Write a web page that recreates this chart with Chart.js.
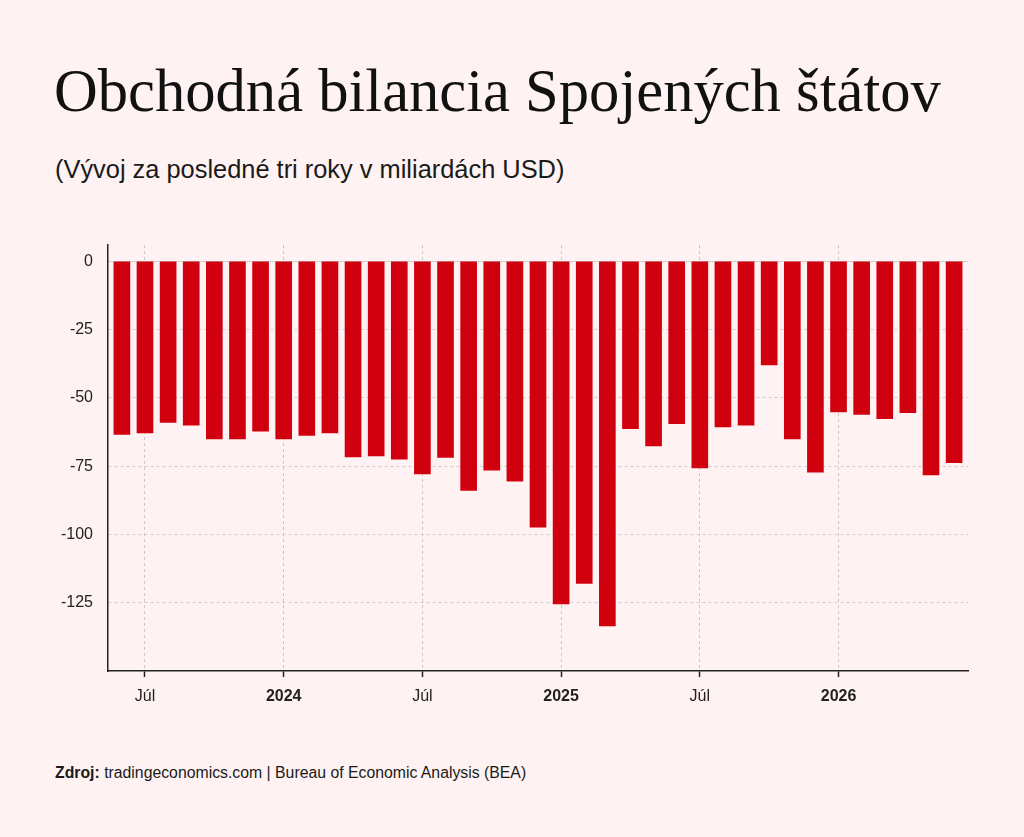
<!DOCTYPE html>
<html lang="sk">
<head>
<meta charset="utf-8">
<title>Obchodná bilancia Spojených štátov</title>
<script src="https://cdn.jsdelivr.net/npm/chart.js@4"></script>
<style>
  html, body { margin: 0; padding: 0; }
  body { width: 1024px; height: 837px; background: #fef3f2; position: relative; overflow: hidden; font-family: "Liberation Sans", Arial, Helvetica, sans-serif; color: #111; }
  #title { position: absolute; left: 54px; top: 56px; font-family: "Liberation Serif", "Times New Roman", serif; font-size: 60.6px; line-height: 70px; white-space: nowrap; }
  #subtitle { position: absolute; left: 55px; top: 154px; font-size: 25.4px; line-height: 30px; color: #1a1a1a; white-space: nowrap; }
  #chart-box { position: absolute; left: 40px; top: 240px; width: 930px; height: 471px; }
  #source { position: absolute; left: 55px; top: 763px; font-size: 15.8px; line-height: 20px; color: #1a1a1a; white-space: nowrap; }
</style>
</head>
<body>
<div id="title">Obchodná bilancia Spojených štátov</div>
<div id="subtitle">(Vývoj za posledné tri roky v miliardách USD)</div>
<div id="chart-box"><canvas id="trade-chart"></canvas></div>
<div id="source"><b>Zdroj:</b> tradingeconomics.com | Bureau of Economic Analysis (BEA)</div>

<script>
// Months (June 2023 - June 2026)
const months = [
    "2023-06", "2023-07", "2023-08", "2023-09", "2023-10", "2023-11", "2023-12",
    "2024-01", "2024-02", "2024-03", "2024-04", "2024-05", "2024-06", "2024-07",
    "2024-08", "2024-09", "2024-10", "2024-11", "2024-12", "2025-01", "2025-02",
    "2025-03", "2025-04", "2025-05", "2025-06", "2025-07", "2025-08", "2025-09",
    "2025-10", "2025-11", "2025-12", "2026-01", "2026-02", "2026-03", "2026-04",
    "2026-05", "2026-06"
];

// Trade balance, billions USD
const balance = [
    -63.4, -62.8, -59.0, -60.0, -65.0, -65.0, -62.2,
    -65.0, -63.7, -62.8, -71.6, -71.2, -72.4, -77.8,
    -71.8, -83.9, -76.5, -80.5, -97.3, -125.4, -117.9,
    -133.5, -61.3, -67.6, -59.4, -75.6, -60.6, -60.0,
    -37.9, -65.0, -77.2, -55.1, -56.0, -57.6, -55.4,
    -78.2, -73.7
];

// X axis ticks (index into months) and their labels
const xTickIndex = [1, 7, 13, 19, 25, 31];
const xTickLabels = ["Júl", "2024", "Júl", "2025", "Júl", "2026"];
const xTickBold = [false, true, false, true, false, true];

// Y axis ticks
const yTicks = [0, -25, -50, -75, -100, -125];

const FONT = "'Liberation Sans', Arial, Helvetica, sans-serif";

function renderTradeChart() {
    const ctx = document.getElementById("trade-chart").getContext("2d");

    const points = balance.map((v, i) => ({ x: i, y: v }));

    new Chart(ctx, {
        type: "bar",
        data: {
            labels: months,
            datasets: [{
                label: "Obchodná bilancia",
                data: points,
                backgroundColor: "#d1000f",
                borderWidth: 0,
                barThickness: 16,
            }]
        },
        options: {
            responsive: true,
            maintainAspectRatio: false,
            animation: false,
            layout: { padding: { top: 5, right: 2, left: 0, bottom: 0 } },
            plugins: {
                legend: { display: false },
                tooltip: { enabled: false },
            },
            scales: {
                x: {
                    type: "linear",
                    offset: false,
                    min: -0.6,
                    max: months.length - 0.4,
                    afterBuildTicks: (scale) => {
                        scale.ticks = xTickIndex.map(v => ({ value: v }));
                    },
                    afterFit: (scale) => {
                        scale.height = 40;
                        scale.paddingLeft = 0;
                        scale.paddingRight = 0;
                    },
                    ticks: {
                        autoSkip: false,
                        maxRotation: 0,
                        padding: 10,
                        color: "#222",
                        font: (c) => {
                            const k = c.tick ? xTickIndex.indexOf(c.tick.value) : -1;
                            return { family: FONT, size: 16, weight: k >= 0 && xTickBold[k] ? "bold" : "normal" };
                        },
                        callback: (value) => {
                            const k = xTickIndex.indexOf(value);
                            return k >= 0 ? xTickLabels[k] : "";
                        },
                    },
                    grid: {
                        offset: false,
                        color: "#c8c8c8",
                        lineWidth: 1,
                        tickColor: "#222",
                        tickLength: 6,
                        tickWidth: 1.5,
                        tickBorderDash: [],
                    },
                    border: { display: true, color: "#222", width: 1.5, dash: [3, 3] },
                },
                y: {
                    min: -150,
                    max: 6,
                    afterBuildTicks: (scale) => {
                        scale.ticks = yTicks.map(v => ({ value: v }));
                    },
                    afterFit: (scale) => {
                        scale.width = 68;
                        scale.paddingTop = 0;
                        scale.paddingBottom = 0;
                    },
                    ticks: {
                        padding: 15,
                        color: "#222",
                        font: { family: FONT, size: 16 },
                        callback: (value) => String(value),
                    },
                    grid: {
                        color: "#cfcfcf",
                        lineWidth: 1,
                        drawTicks: false,
                    },
                    border: {
                        display: true,
                        color: "#222",
                        width: 1.5,
                        dash: (c) => (c.tick && c.tick.value === 0 ? [] : [3, 3]),
                    },
                },
            },
        },
    });
}

document.addEventListener("DOMContentLoaded", () => {
    renderTradeChart();
});
</script>
</body>
</html>
